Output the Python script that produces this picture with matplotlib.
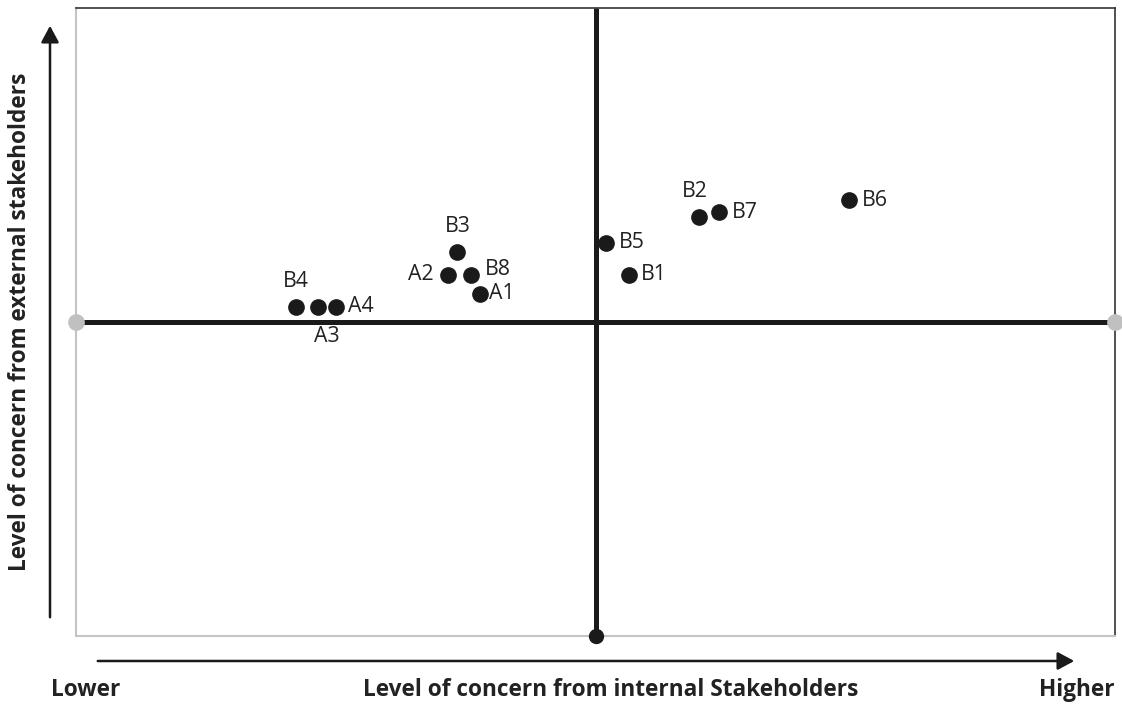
import matplotlib.pyplot as plt
from matplotlib.patches import FancyArrowPatch

plt.rcParams['font.family'] = ['Open Sans', 'DejaVu Sans']

# Stakeholder concern positions (0-100 scale, crosshair at 50/50)
names = ['B4', 'A3', 'A4', 'A2', 'B3', 'B8', 'A1', 'B5', 'B1', 'B2', 'B7', 'B6']
internal = [21.2, 23.3, 25.0, 35.8, 36.7, 38.0, 38.9, 51.0, 53.2, 60.0, 61.9, 74.4]
external = [52.4, 52.4, 52.4, 57.5, 61.1, 57.5, 54.5, 62.6, 57.5, 66.7, 67.5, 69.4]

# label offsets in points (where the text sits relative to the dot)
offsets = {
    'B4': (0, 11, 'center', 'bottom'),
    'A3': (6, -14, 'center', 'top'),
    'A4': (9, 0, 'left', 'center'),
    'A2': (-10, 0, 'right', 'center'),
    'B3': (0, 11, 'center', 'bottom'),
    'B8': (10, 4, 'left', 'center'),
    'A1': (6, 0, 'left', 'center'),
    'B5': (9, 0, 'left', 'center'),
    'B1': (9, 0, 'left', 'center'),
    'B2': (-3, 11, 'center', 'bottom'),
    'B7': (9, 0, 'left', 'center'),
    'B6': (9, 0, 'left', 'center'),
}

fig = plt.figure(figsize=(11.22, 7.06), dpi=100)
ax = fig.add_axes([76 / 1122, 70 / 706, 1039 / 1122, 628 / 706])
ax.set_xlim(0, 100)
ax.set_ylim(0, 100)
ax.set_xticks([])
ax.set_yticks([])
for side in ['left', 'bottom']:
    ax.spines[side].set_color('#c4c4c4')
    ax.spines[side].set_linewidth(1.5)
for side in ['top', 'right']:
    ax.spines[side].set_color('#333333')
    ax.spines[side].set_linewidth(1.2)

# quadrant lines
ax.plot([0, 100], [50, 50], color='#1a1a1a', lw=3.6, zorder=2, solid_capstyle='butt')
ax.plot([50, 50], [0, 100], color='#1a1a1a', lw=3.6, zorder=2, solid_capstyle='butt')
ax.plot([0, 100], [50, 50], 'o', color='#c0c0c0', ms=11, clip_on=False, zorder=3)
ax.plot([50], [0], 'o', color='#1a1a1a', ms=10, clip_on=False, zorder=3)

ax.plot(internal, external, 'o', color='#1a1a1a', ms=11, zorder=4, linestyle='none')
for n, x, y in zip(names, internal, external):
    dx, dy, ha, va = offsets[n]
    ax.annotate(n, (x, y), xytext=(dx, dy), textcoords='offset points',
                ha=ha, va=va, fontsize=15.3, color='#222222')

# axis arrows
arrow_style = '-|>,head_length=0.5,head_width=0.27'
fig.patches.append(FancyArrowPatch(
    (50 / 1122, 86 / 706), (50 / 1122, 683 / 706), transform=fig.transFigure,
    arrowstyle=arrow_style, mutation_scale=20, color='#1a1a1a', lw=1.8))
fig.patches.append(FancyArrowPatch(
    (95 / 1122, 45 / 706), (1077 / 1122, 45 / 706), transform=fig.transFigure,
    arrowstyle=arrow_style, mutation_scale=20, color='#1a1a1a', lw=1.8))

label_kw = dict(fontsize=16.3, fontweight='bold', color='#222222')
fig.text(20 / 1122, 1 - 322 / 706, 'Level of concern from external stakeholders',
         rotation=90, ha='center', va='center', **label_kw)
fig.text(86 / 1122, 1 - 690 / 706, 'Lower', ha='center', va='center', **label_kw)
fig.text(611 / 1122, 1 - 690 / 706, 'Level of concern from internal Stakeholders',
         ha='center', va='center', **label_kw)
fig.text(1115 / 1122, 1 - 690 / 706, 'Higher', ha='right', va='center', **label_kw)

plt.savefig('out.png', dpi=100)
